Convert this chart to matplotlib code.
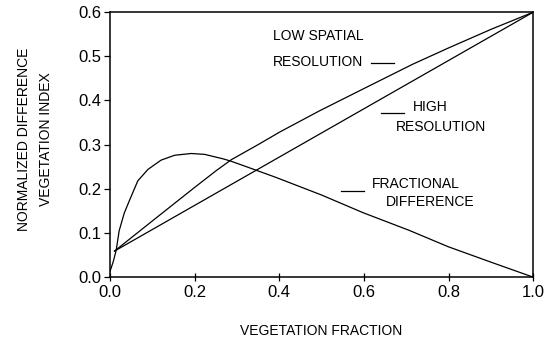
import matplotlib
matplotlib.use("Agg")
import matplotlib.pyplot as plt

plt.rcParams["font.family"] = ["Liberation Sans", "DejaVu Sans"]

# data
veg_fraction_frac = [0.0, 0.008, 0.015, 0.022, 0.034, 0.046, 0.066, 0.09,
                     0.121, 0.153, 0.192, 0.224, 0.267, 0.285, 0.346, 0.392,
                     0.5, 0.598, 0.707, 0.799, 0.9, 1.0]
fractional_diff = [0.012, 0.035, 0.061, 0.105, 0.145, 0.173, 0.218, 0.244,
                   0.265, 0.276, 0.280, 0.278, 0.268, 0.263, 0.242, 0.226,
                   0.186, 0.146, 0.106, 0.069, 0.034, 0.0]

veg_fraction_low = [0.011, 0.1, 0.2, 0.251, 0.287, 0.35, 0.402, 0.496, 0.6,
                    0.715, 0.8, 0.9, 1.0]
ndvi_low_res = [0.059, 0.127, 0.203, 0.241, 0.266, 0.30, 0.329, 0.377, 0.427,
                0.482, 0.519, 0.561, 0.6]

veg_fraction_high = [0.011, 1.0]
ndvi_high_res = [0.059, 0.6]

fig = plt.figure(figsize=(5.52, 3.38), dpi=100)
ax = fig.add_axes([0.199, 0.180, 0.767, 0.784])

lw = 0.9
ax.plot(veg_fraction_low, ndvi_low_res, color="black", lw=lw)
ax.plot(veg_fraction_high, ndvi_high_res, color="black", lw=lw)
ax.plot(veg_fraction_frac, fractional_diff, color="black", lw=lw)

# curve labels
fs = 10
ax.text(0.385, 0.545, "LOW SPATIAL", fontsize=fs, ha="left", va="center")
ax.text(0.385, 0.488, "RESOLUTION", fontsize=fs, ha="left", va="center")
ax.plot([0.617, 0.672], [0.484, 0.484], color="black", lw=lw)

ax.plot([0.64, 0.695], [0.372, 0.372], color="black", lw=lw)
ax.text(0.716, 0.385, "HIGH", fontsize=fs, ha="left", va="center")
ax.text(0.676, 0.34, "RESOLUTION", fontsize=fs, ha="left", va="center")

ax.plot([0.545, 0.6], [0.195, 0.195], color="black", lw=lw)
ax.text(0.62, 0.21, "FRACTIONAL", fontsize=fs, ha="left", va="center")
ax.text(0.652, 0.17, "DIFFERENCE", fontsize=fs, ha="left", va="center")

ax.set_xlim(0, 1)
ax.set_ylim(0, 0.6)
ax.set_xticks([0, 0.2, 0.4, 0.6, 0.8, 1.0])
ax.set_yticks([0, 0.1, 0.2, 0.3, 0.4, 0.5, 0.6])
ax.xaxis.set_major_formatter(matplotlib.ticker.FormatStrFormatter("%.1f"))
ax.yaxis.set_major_formatter(matplotlib.ticker.FormatStrFormatter("%.1f"))
ax.tick_params(axis="x", direction="inout", length=6, width=0.9,
               labelsize=12, pad=3)
ax.tick_params(axis="y", direction="out", length=4, width=0.9,
               labelsize=12, pad=2)
for sp in ax.spines.values():
    sp.set_linewidth(1.1)

ax.set_xlabel("VEGETATION FRACTION", fontsize=fs)
ax.xaxis.label.set_va("center")
ax.xaxis.set_label_coords(0.5, -0.205)
ax.set_ylabel("NORMALIZED DIFFERENCE\nVEGETATION INDEX", fontsize=fs,
              linespacing=1.7)
ax.yaxis.label.set_va("center")
ax.yaxis.set_label_coords(-0.177, 0.52)

fig.savefig("out.png", dpi=100)
